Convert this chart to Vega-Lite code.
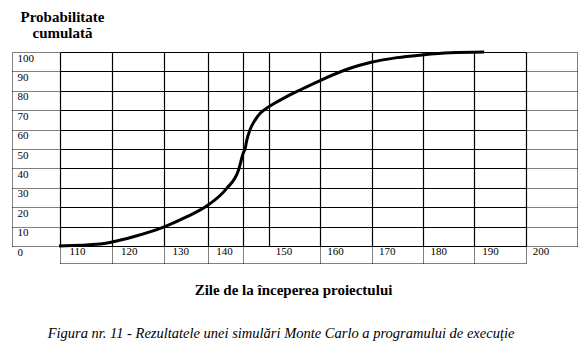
{
  "$schema": "https://vega.github.io/schema/vega-lite/v6.json",
  "width": 466,
  "height": 194,
  "autosize": {"type": "none"},
  "padding": {"left": 60, "top": 52, "right": 61, "bottom": 109},
  "background": "white",
  "title": {
    "text": "Figura nr. 11 - Rezultatele unei simulări Monte Carlo a programului de execuție",
    "orient": "bottom", "anchor": "middle", "font": "'Liberation Serif', 'Times New Roman', serif", "fontSize": 14.5,
    "fontStyle": "italic", "fontWeight": "normal", "color": "black", "offset": 30, "dx": -12
  },
  "data": {"values": [
    {"days": 106.5, "prob": 0},
    {"days": 114.5, "prob": 1.0},
    {"days": 116.8, "prob": 2.1},
    {"days": 120.9, "prob": 4.8},
    {"days": 126.9, "prob": 9.9},
    {"days": 131.3, "prob": 15.1},
    {"days": 135.4, "prob": 21.1},
    {"days": 139.0, "prob": 29.7},
    {"days": 141.3, "prob": 39.2},
    {"days": 142.2, "prob": 47.8},
    {"days": 142.6, "prob": 50.5},
    {"days": 142.9, "prob": 54.6},
    {"days": 143.5, "prob": 59.8},
    {"days": 144.5, "prob": 64.9},
    {"days": 145.5, "prob": 68.4},
    {"days": 147.1, "prob": 71.6},
    {"days": 150.0, "prob": 76.1},
    {"days": 153.2, "prob": 80.4},
    {"days": 157.1, "prob": 85.3},
    {"days": 162.9, "prob": 91.6},
    {"days": 167.0, "prob": 94.7},
    {"days": 172.0, "prob": 97.1},
    {"days": 176.9, "prob": 98.5},
    {"days": 182.3, "prob": 99.6},
    {"days": 188.9, "prob": 100}
  ]},
  "layer": [
    {
      "mark": {"type": "line", "color": "black", "strokeWidth": 3, "interpolate": "monotone"},
      "encoding": {
        "x": {
          "field": "days", "type": "quantitative",
          "scale": {"domain": [106.7, 197], "nice": false, "zero": false},
          "axis": {
            "orient": "bottom",
            "values": [110, 120, 130, 138.5, 150, 160, 170, 180, 190, 196.9],
            "labelExpr": "'' + round(datum.value/10)*10",
            "labelOffset": {"condition": {"test": "datum.value > 195", "value": 15}, "value": 0},
            "ticks": false, "grid": false,
            "domain": true, "domainDash": [1, 1], "domainColor": "black", "domainWidth": 1,
            "offset": 17, "labelPadding": -18, "labelBaseline": "top",
            "labelFont": "'Liberation Serif', 'Times New Roman', serif", "labelFontSize": 11, "labelColor": "black",
            "labelFlush": false, "labelOverlap": false,
            "title": "Zile de la începerea proiectului",
            "titleFont": "'Liberation Serif', 'Times New Roman', serif", "titleFontSize": 15, "titleFontWeight": "bold",
            "titleColor": "black", "titleX": 233, "titleY": 26, "titleBaseline": "middle",
            "titleAlign": "center", "titleAngle": 0
          }
        },
        "y": {
          "field": "prob", "type": "quantitative",
          "scale": {"domain": [0, 100], "nice": false},
          "axis": {
            "orient": "left",
            "values": [0, 10, 20, 30, 40, 50, 60, 70, 80, 90, 100],
            "grid": true, "gridColor": "black", "gridWidth": 1.2, "gridOpacity": 1,
            "ticks": true, "tickSize": -48, "tickDash": [1, 1], "tickColor": "black", "tickWidth": 1,
            "offset": 48,
            "domain": true, "domainDash": [1, 1], "domainColor": "black", "domainWidth": 1,
            "labelAlign": "left", "labelBaseline": "top", "labelPadding": 43,
            "labelFont": "'Liberation Serif', 'Times New Roman', serif", "labelFontSize": 11, "labelColor": "black",
            "labelOverlap": false, "labelFlush": false,
            "title": ["Probabilitate", "cumulată"],
            "titleFont": "'Liberation Serif', 'Times New Roman', serif", "titleFontSize": 15, "titleFontWeight": "bold",
            "titleColor": "black", "titleAngle": 0, "titleAlign": "center", "titleBaseline": "top",
            "titleX": 50, "titleY": -43, "titleLineHeight": 16
          }
        }
      }
    },
    {
      "mark": {"type": "point", "opacity": 0},
      "encoding": {
        "x": {
          "field": "days", "type": "quantitative",
          "scale": {"domain": [106.7, 197], "nice": false, "zero": false},
          "axis": {
            "orient": "bottom",
            "values": [106.7, 116.8, 126.9, 135.4, 142.2, 147.2, 157.1, 167.2, 177.1, 186.9, 197],
            "grid": true, "gridColor": "black", "gridWidth": 1.2, "gridOpacity": 1,
            "ticks": true, "tickSize": 17, "tickDash": [1, 1], "tickColor": "black", "tickWidth": 1,
            "tickOpacity": {"condition": {"test": "datum.value == 147.2", "value": 0}, "value": 1},
            "labels": false, "domain": false, "title": null
          }
        },
        "y": {
          "field": "prob", "type": "quantitative",
          "scale": {"domain": [0, 100], "nice": false},
          "axis": {
            "orient": "right",
            "values": [0, 10, 20, 30, 40, 50, 60, 70, 80, 90, 100],
            "grid": false,
            "ticks": true, "tickSize": -51, "tickDash": [1, 1], "tickColor": "black", "tickWidth": 1,
            "offset": 51,
            "domain": true, "domainDash": [1, 1], "domainColor": "black", "domainWidth": 1,
            "labels": false, "title": null
          }
        }
      }
    }
  ],
  "resolve": {"axis": {"x": "independent", "y": "independent"}},
  "config": {"view": {"stroke": null}}
}
